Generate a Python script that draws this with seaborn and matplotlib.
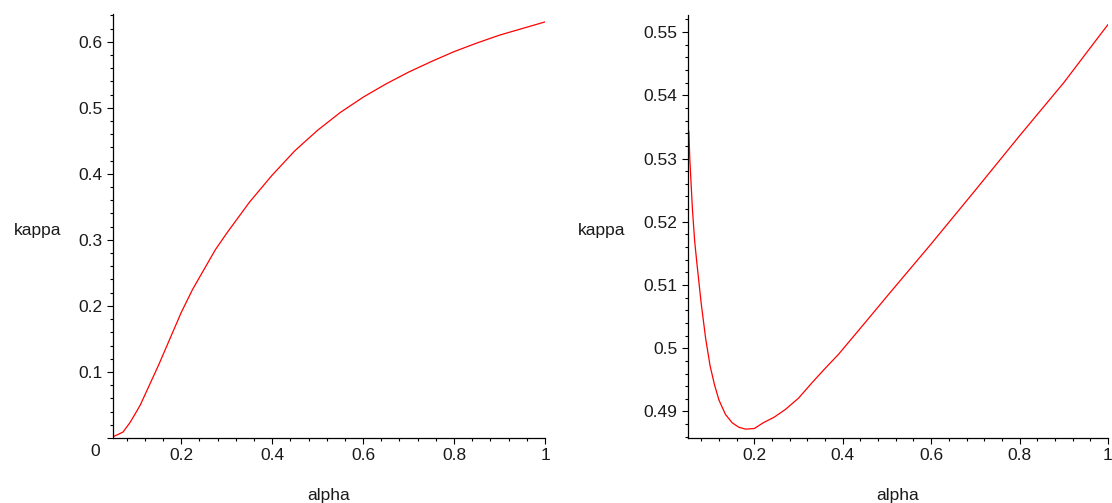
import matplotlib

matplotlib.use("Agg")
import matplotlib.pyplot as plt
import numpy as np
import pandas as pd
import seaborn as sns
from matplotlib.ticker import MultipleLocator
from matplotlib.transforms import ScaledTranslation

# left panel: kappa(alpha), rising curve
alpha_left = [0.05, 0.06, 0.072, 0.087, 0.10, 0.11, 0.13, 0.15, 0.175, 0.20,
              0.225, 0.25, 0.275, 0.30, 0.35, 0.40, 0.45, 0.50, 0.55, 0.60,
              0.65, 0.70, 0.75, 0.80, 0.85, 0.90, 0.95, 1.00]
kappa_left = [0.002, 0.005, 0.009, 0.023, 0.038, 0.050, 0.080, 0.110, 0.150, 0.190,
              0.225, 0.255, 0.285, 0.310, 0.357, 0.398, 0.435, 0.466, 0.493, 0.516,
              0.536, 0.554, 0.570, 0.585, 0.598, 0.610, 0.620, 0.630]

# right panel: kappa(alpha), dip then near-linear rise
alpha_right = [0.052, 0.054, 0.057, 0.060, 0.065, 0.070, 0.080, 0.090, 0.100, 0.110,
               0.120, 0.135, 0.150, 0.165, 0.180, 0.200, 0.220, 0.245, 0.270, 0.300,
               0.330, 0.360, 0.390, 0.420, 0.450, 0.500, 0.600, 0.700, 0.800, 0.900,
               1.000]
kappa_right = [0.5343, 0.5300, 0.5260, 0.5220, 0.5170, 0.5135, 0.5070, 0.5015, 0.4972, 0.4942,
               0.4918, 0.4895, 0.4882, 0.4875, 0.4872, 0.4873, 0.4882, 0.4891, 0.4903, 0.4921,
               0.4945, 0.4968, 0.4990, 0.5015, 0.5040, 0.5082, 0.5165, 0.5250, 0.5336, 0.5420,
               0.5512]

x_ticks = [0.2, 0.4, 0.6, 0.8, 1.0]
x_labels = ["0.2", "0.4", "0.6", "0.8", "1"]
y_ticks_left = [0, 0.1, 0.2, 0.3, 0.4, 0.5, 0.6]
y_labels_left = ["0", "0.1", "0.2", "0.3", "0.4", "0.5", "0.6"]
y_ticks_right = [0.49, 0.50, 0.51, 0.52, 0.53, 0.54, 0.55]
y_labels_right = ["0.49", "0.5", "0.51", "0.52", "0.53", "0.54", "0.55"]

sns.set_style("ticks")
plt.rcParams["font.family"] = ["Liberation Sans", "DejaVu Sans"]
plt.rcParams["font.size"] = 12.5

TEXT = "#1a1a1a"

fig = plt.figure(figsize=(11.12, 5.03), dpi=100)
ax_l = fig.add_axes([113 / 1112, 65 / 503, 432 / 1112, 424 / 503])
ax_r = fig.add_axes([688 / 1112, 65 / 503, 420 / 1112, 423 / 503])

df_l = pd.DataFrame({"alpha": alpha_left, "kappa": kappa_left})
df_r = pd.DataFrame({"alpha": alpha_right, "kappa": kappa_right})

sns.lineplot(data=df_l, x="alpha", y="kappa", ax=ax_l, color="#ff0000", linewidth=0.9)
sns.lineplot(data=df_r, x="alpha", y="kappa", ax=ax_r, color="#ff0000", linewidth=0.9)


def style_axis(ax, ylim, yticks, ylabels, yminor, label_x):
    ax.set_xlim(0.05, 1.0)
    ax.set_ylim(*ylim)
    ax.set_xticks(x_ticks, x_labels)
    ax.set_yticks(yticks, ylabels)
    ax.xaxis.set_minor_locator(MultipleLocator(0.04))
    ax.yaxis.set_minor_locator(MultipleLocator(yminor))
    for side in ["top", "right"]:
        ax.spines[side].set_visible(False)
    for side in ["left", "bottom"]:
        ax.spines[side].set_color("black")
        ax.spines[side].set_linewidth(0.9)
    ax.tick_params(which="major", direction="out", length=4.5, width=0.8,
                   color="black", labelcolor=TEXT, labelsize=12.5, pad=3)
    ax.tick_params(which="minor", direction="out", length=2.5, width=0.8, color="black")
    ax.set_xlabel("alpha", color=TEXT, fontsize=12.5)
    ax.set_ylabel("kappa", color=TEXT, fontsize=12.5, rotation=0)
    ax.xaxis.set_label_coords(0.5, -0.146)
    ax.xaxis.label.set_va("baseline")
    ax.yaxis.set_label_coords(label_x, 0.49)
    ax.yaxis.label.set_ha("center")
    ax.yaxis.label.set_va("center")


style_axis(ax_l, (0, 0.642), y_ticks_left, y_labels_left, 0.02, -0.174)
style_axis(ax_r, (0.4858, 0.5527), y_ticks_right, y_labels_right, 0.002, -0.205)

# the "0" label sits below the corner, as in the original
zero_label = ax_l.yaxis.get_major_ticks()[0].label1
zero_label.set_transform(zero_label.get_transform()
                         + ScaledTranslation(-2 / 72, -9 / 72, fig.dpi_scale_trans))

fig.savefig("out.png", dpi=100)
